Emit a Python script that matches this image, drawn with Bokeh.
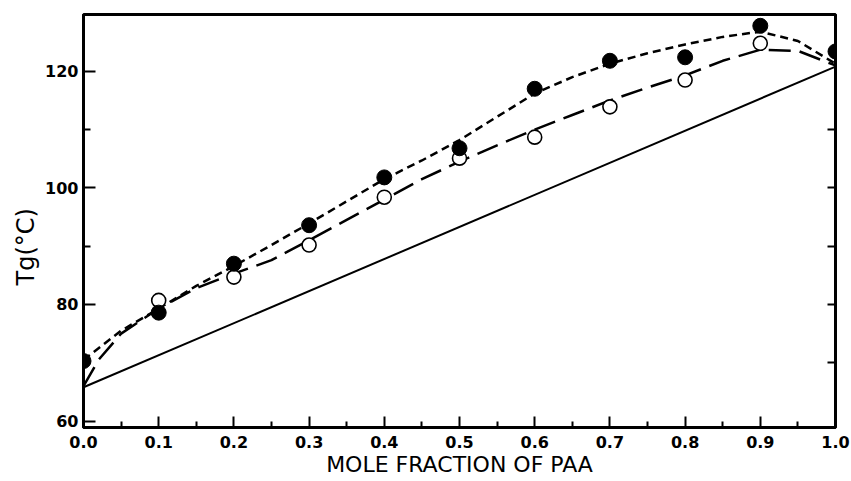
from bokeh.plotting import figure
from bokeh.models import Range1d, FixedTicker, LinearAxis, Title
from bokeh.embed import file_html
from bokeh.resources import INLINE

# Glass transition temperature vs. mole fraction of PAA
pt_x = [0.0, 0.1, 0.2, 0.3, 0.4, 0.5, 0.6, 0.7, 0.8, 0.9, 1.0]
tg_filled = [70.3, 78.6, 87.0, 93.6, 101.8, 106.8, 117.0, 121.8, 122.4, 127.8, 123.4]

open_x = [0.1, 0.2, 0.3, 0.4, 0.5, 0.6, 0.7, 0.8, 0.9]
tg_open = [80.7, 84.7, 90.2, 98.4, 105.1, 108.7, 113.9, 118.5, 124.8]

# fitted curves through the two data sets
curve_x = [0.0, 0.02, 0.05, 0.1, 0.15, 0.2, 0.25, 0.3, 0.35, 0.4, 0.45, 0.5,
           0.55, 0.6, 0.65, 0.7, 0.75, 0.8, 0.85, 0.9, 0.95, 1.0]
fit_filled = [70.5, 72.5, 75.5, 79.3, 83.2, 86.6, 90.2, 93.9, 97.7, 101.5, 104.7, 108.2,
              112.2, 116.2, 119.0, 121.3, 123.1, 124.6, 125.9, 126.8, 125.2, 121.3]
fit_open = [66.0, 70.5, 75.0, 79.3, 82.8, 85.3, 87.6, 91.0, 94.5, 98.0, 101.5, 104.5,
            107.3, 110.0, 112.5, 115.0, 117.2, 119.3, 121.8, 123.7, 123.5, 121.0]

# additivity line between the pure components
lin_x = [0.0, 1.0]
lin_tg = [65.8, 120.8]

x_ticks = [0.0, 0.1, 0.2, 0.3, 0.4, 0.5, 0.6, 0.7, 0.8, 0.9, 1.0]
x_tick_labels = ["0.0", "0.1", "0.2", "0.3", "0.4", "0.5", "0.6", "0.7", "0.8", "0.9", "1.0"]
x_minor = [0.05, 0.15, 0.25, 0.35, 0.45, 0.55, 0.65, 0.75, 0.85, 0.95]
y_ticks = [60, 80, 100, 120]
y_minor = [70, 90, 110]
y_right_ticks = [70, 80, 90, 100, 110]

p = figure(width=851, height=481, output_backend="svg", toolbar_location=None,
           x_range=Range1d(0.0, 1.0), y_range=Range1d(58.9, 129.74),
           min_border_left=83, min_border_right=16, min_border_top=14,
           min_border_bottom=54)
p.grid.visible = False
p.background_fill_color = "white"
p.border_fill_color = "white"
p.outline_line_color = "black"
p.outline_line_width = 3

tick_font = "DejaVu Sans"

xa = p.xaxis[0]
xa.ticker = FixedTicker(ticks=x_ticks, minor_ticks=x_minor)
xa.major_label_overrides = {t: s for t, s in zip(x_ticks, x_tick_labels)}
xa.axis_line_width = 3
xa.major_tick_in = 11
xa.major_tick_out = 0
xa.minor_tick_in = 6
xa.minor_tick_out = 0
xa.major_tick_line_width = 2
xa.minor_tick_line_width = 2
xa.major_label_standoff = 8
xa.major_label_text_font = tick_font
xa.major_label_text_font_style = "bold"
xa.major_label_text_font_size = "16px"
xa.major_label_text_color = "black"
xa.axis_label = "MOLE FRACTION OF PAA"
xa.axis_label_standoff = 1
xa.axis_label_text_font = "DejaVu Sans"
xa.axis_label_text_font_style = "normal"
xa.axis_label_text_font_size = "22px"
xa.axis_label_text_color = "black"

ya = p.yaxis[0]
ya.ticker = FixedTicker(ticks=y_ticks, minor_ticks=y_minor)
ya.axis_line_width = 3
ya.major_tick_in = 12
ya.major_tick_out = 0
ya.minor_tick_in = 7
ya.minor_tick_out = 0
ya.major_tick_line_width = 2
ya.minor_tick_line_width = 2
ya.major_label_standoff = 5
ya.major_label_text_font = tick_font
ya.major_label_text_font_style = "bold"
ya.major_label_text_font_size = "16px"
ya.major_label_text_color = "black"

ra = LinearAxis(ticker=FixedTicker(ticks=y_right_ticks, minor_ticks=[]))
ra.major_label_overrides = {t: "" for t in y_right_ticks}
ra.axis_line_width = 2.5
ra.major_tick_in = 8
ra.major_tick_out = 0
ra.minor_tick_in = 0
ra.minor_tick_out = 0
ra.major_tick_line_width = 2
p.add_layout(ra, "right")

# y-axis title, anchored at the frame's bottom and raised by an offset
p.add_layout(Title(text="Tg(°C)", align="left", offset=142, standoff=6,
                   text_font="DejaVu Sans", text_font_style="normal",
                   text_font_size="24px", text_color="black"), "left")

# curves
p.line(lin_x, lin_tg, line_color="black", line_width=2)
p.line(curve_x, fit_open, line_color="black", line_width=2.5, line_dash="22 9")
p.line(curve_x, fit_filled, line_color="black", line_width=2.5, line_dash="8 5")

# data points
p.scatter(open_x, tg_open, size=14, marker="circle", fill_color="white",
          line_color="black", line_width=1.6)
p.scatter(pt_x, tg_filled, size=15, marker="circle", fill_color="black",
          line_color="black")

open("out.html", "w").write(file_html(p, INLINE))
